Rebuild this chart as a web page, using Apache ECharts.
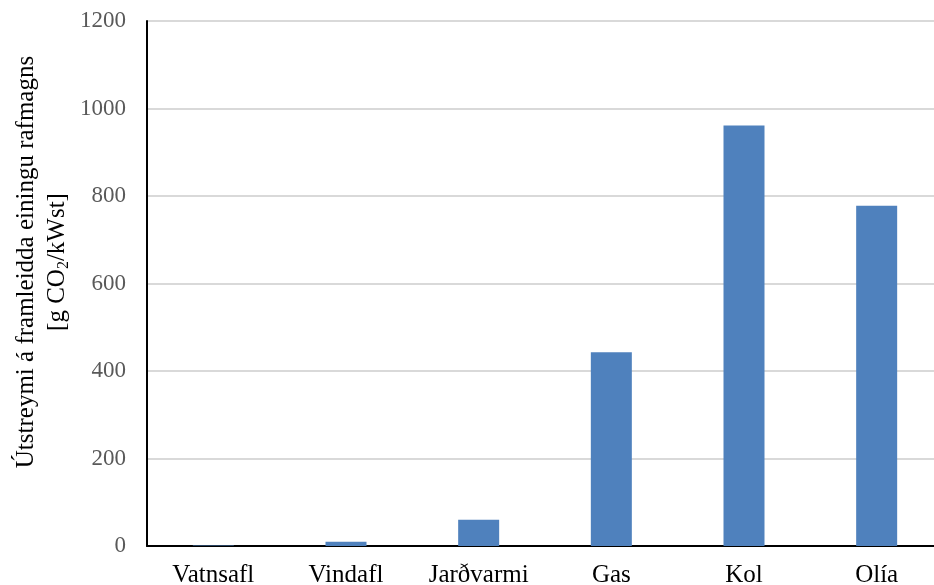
<!DOCTYPE html>
<html>
<head>
<meta charset="utf-8">
<script src="https://cdn.jsdelivr.net/npm/echarts@6/dist/echarts.min.js"></script>
<style>
  html, body { margin: 0; padding: 0; background: #fff; }
  #chart { width: 934px; height: 585px; }
</style>
</head>
<body>
<div id="chart"></div>
<script>
// útstreymi eftir orkugjafa
var categories = ['Vatnsafl', 'Vindafl', 'Jarðvarmi', 'Gas', 'Kol', 'Olía'];
var values = [1, 10, 60, 443, 961, 778];
var yTicks = { min: 0, max: 1200, interval: 200 };

function DrawEmissions() {
    var chart = echarts.init(document.getElementById('chart'));
    var serif = '"Liberation Serif", "Times New Roman", serif';
    var option = {
        animation: false,
        grid: {
            left: 147,
            right: -9,
            top: 21,
            bottom: 39,
            outerBoundsMode: 'none',
            containLabel: false
        },
        xAxis: {
            type: 'category',
            data: categories,
            axisLine: { lineStyle: { color: '#000', width: 2 } },
            axisTick: { show: false },
            axisLabel: {
                color: '#000',
                fontFamily: serif,
                fontSize: 25,
                margin: 17
            }
        },
        yAxis: {
            type: 'value',
            min: yTicks.min,
            max: yTicks.max,
            interval: yTicks.interval,
            axisLine: { show: true, lineStyle: { color: '#000', width: 2 } },
            axisTick: { show: false },
            splitLine: { lineStyle: { color: '#d9d9d9', width: 2 } },
            axisLabel: {
                color: '#595959',
                fontFamily: serif,
                fontSize: 23,
                margin: 21,
                formatter: function (v) { return String(v); }
            }
        },
        graphic: [{
            type: 'text',
            x: 42,
            y: 262,
            rotation: Math.PI / 2,
            style: {
                text: 'Útstreymi á framleidda einingu rafmagns\n[g CO{sub|2}/kWst]',
                font: '25px ' + serif,
                fill: '#000',
                align: 'center',
                verticalAlign: 'middle',
                lineHeight: 31,
                rich: {
                    sub: {
                        fontSize: 16,
                        fontFamily: serif,
                        fill: '#000',
                        padding: [12, 0, 0, 0]
                    }
                }
            }
        }],
        series: [{
            type: 'bar',
            data: values,
            barWidth: 41,
            itemStyle: { color: '#4f81bd' }
        }]
    };
    chart.setOption(option);
}

DrawEmissions();
</script>
</body>
</html>
